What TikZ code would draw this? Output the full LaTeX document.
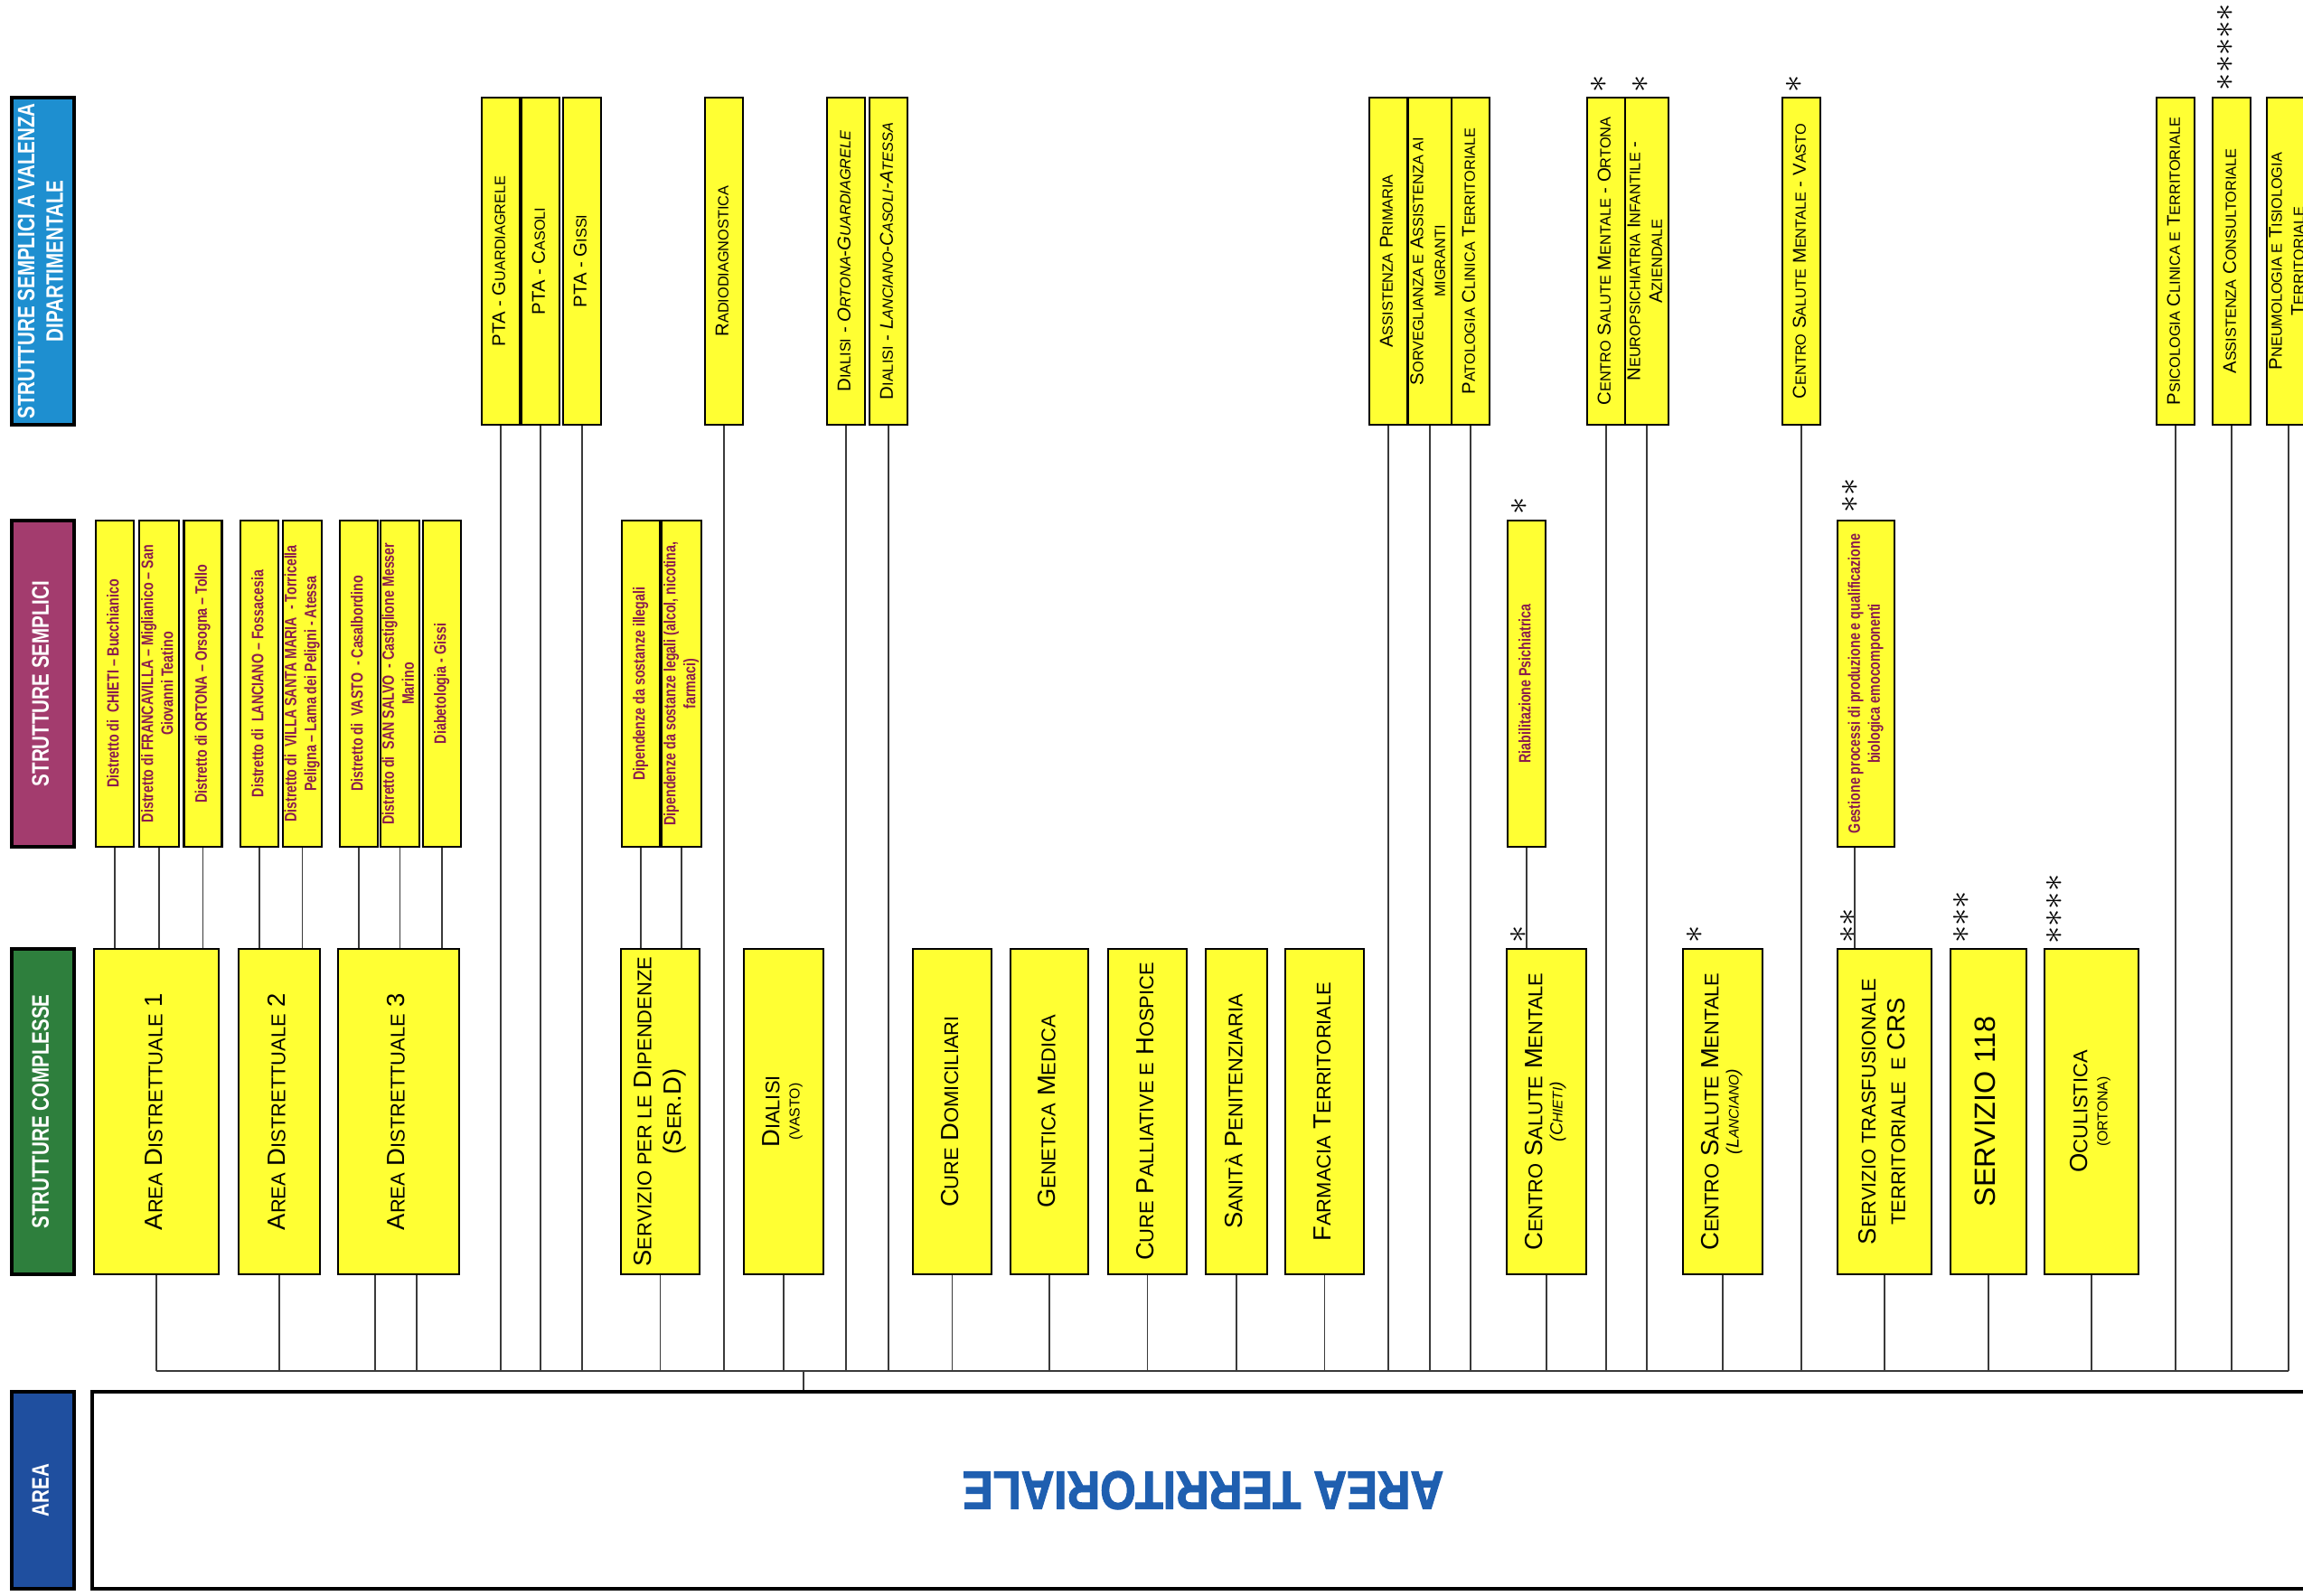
\documentclass[tikz,border=0pt]{standalone}
\usepackage{fontspec}
\usepackage{graphicx}
\setmainfont{Liberation Sans}
\newfontfamily\narrowsf[FakeStretch=0.78]{Liberation Sans}
\newfontfamily\widesf[FakeStretch=0.85,FakeBold=2]{Liberation Sans}
\usetikzlibrary{positioning}

\definecolor{boxyellow}{HTML}{FFFF33}
\definecolor{textmag}{HTML}{8A1C4E}
\definecolor{hblue}{HTML}{1E8FD0}
\definecolor{hmag}{HTML}{A33C6E}
\definecolor{hgreen}{HTML}{2E7F3D}
\definecolor{hnavy}{HTML}{1F4F9F}
\definecolor{areablue}{HTML}{1F5FB0}
\definecolor{linkgray}{HTML}{3A3A3A}

\makeatletter
\newcommand\sk[1]{{\@tempdima=\f@size pt\relax\@tempdima=0.8\@tempdima
  \edef\sk@size{\strip@pt\@tempdima}\fontsize{\sk@size}{\f@baselineskip}\selectfont #1}}
\makeatother
\newcommand\vtext[1]{\rotatebox{90}{\begin{tabular}{@{}c@{}}#1\end{tabular}}}

\begin{document}
\begin{tikzpicture}[
    box/.style={draw=black, line width=0.6pt, fill=boxyellow, inner sep=0pt, minimum width=0.42cm},
    lvlone/.style={box, minimum height=3.62cm, font=\fontsize{5.8}{6.9}\selectfont},
    lvltwo/.style={box, minimum height=3.61cm, text=textmag, font=\narrowsf\bfseries\fontsize{5.2}{6.2}\selectfont},
    lvlthree/.style={box, minimum height=3.60cm, font=\fontsize{7.8}{9.3}\selectfont},
    header/.style={draw=black, line width=1pt, minimum width=0.69cm, inner sep=0pt, text=white, font=\narrowsf\bfseries\fontsize{7.5}{9}\selectfont},
    link/.style={draw=linkgray, line width=0.5pt},
    stars/.style={inner sep=0pt, rotate=90, font=\fontsize{11}{11}\selectfont}
]
    \useasboundingbox (0,0) rectangle (25.48,-17.66);

    % Column headers
    \node[header, fill=hblue, minimum height=3.62cm] (hsvd) at (0.475,-2.89) {\vtext{STRUTTURE SEMPLICI A VALENZA\\DIPARTIMENTALE}};
    \node[header, fill=hmag, minimum height=3.61cm] (hss) at (0.475,-7.565) {\vtext{STRUTTURE SEMPLICI}};
    \node[header, fill=hgreen, minimum height=3.60cm] (hsc) at (0.475,-12.30) {\vtext{STRUTTURE COMPLESSE}};
    \node[header, fill=hnavy, minimum height=2.18cm] (harea) at (0.475,-16.49) {\vtext{AREA}};

    % Strutture semplici a valenza dipartimentale
    \node[lvlone] (ptag) at (5.54,-2.89) {\vtext{PTA - G\sk{UARDIAGRELE}}};
    \node[lvlone] (ptac) at (5.98,-2.89) {\vtext{PTA - C\sk{ASOLI}}};
    \node[lvlone] (ptagi) at (6.44,-2.89) {\vtext{PTA - G\sk{ISSI}}};
    \node[lvlone] (radio) at (8.01,-2.89) {\vtext{R\sk{ADIODIAGNOSTICA}}};
    \node[lvlone] (dialo) at (9.36,-2.89) {\vtext{D\sk{IALISI} - \textit{O\sk{RTONA}-G\sk{UARDIAGRELE}}}};
    \node[lvlone] (diall) at (9.83,-2.89) {\vtext{D\sk{IALISI} - \textit{L\sk{ANCIANO}-C\sk{ASOLI}-A\sk{TESSA}}}};
    \node[lvlone] (assprim) at (15.36,-2.89) {\vtext{A\sk{SSISTENZA} P\sk{RIMARIA}}};
    \node[lvlone] (sorv) at (15.82,-2.89) {\vtext{S\sk{ORVEGLIANZA E} A\sk{SSISTENZA AI}\\\sk{MIGRANTI}}};
    \node[lvlone] (patol) at (16.27,-2.89) {\vtext{P\sk{ATOLOGIA} C\sk{LINICA} T\sk{ERRITORIALE}}};
    \node[lvlone] (csmort) at (17.77,-2.89) {\vtext{C\sk{ENTRO} S\sk{ALUTE} M\sk{ENTALE} - O\sk{RTONA}}};
    \node[lvlone] (neuro) at (18.22,-2.89) {\vtext{N\sk{EUROPSICHIATRIA} I\sk{NFANTILE} -\\A\sk{ZIENDALE}}};
    \node[lvlone] (csmvas) at (19.93,-2.89) {\vtext{C\sk{ENTRO} S\sk{ALUTE} M\sk{ENTALE} - V\sk{ASTO}}};
    \node[lvlone] (psico) at (24.07,-2.89) {\vtext{P\sk{SICOLOGIA} C\sk{LINICA E} T\sk{ERRITORIALE}}};
    \node[lvlone] (consul) at (24.69,-2.89) {\vtext{A\sk{SSISTENZA} C\sk{ONSULTORIALE}}};
    \node[lvlone] (pneumo) at (25.32,-2.89) {\vtext{P\sk{NEUMOLOGIA E} T\sk{ISIOLOGIA}\\T\sk{ERRITORIALE}}};

    % Strutture semplici
    \node[lvltwo] (dchi) at (1.27,-7.565) {\vtext{Distretto di\ \ CHIETI – Bucchianico}};
    \node[lvltwo] (dfra) at (1.76,-7.565) {\vtext{Distretto di FRANCAVILLA – Miglianico – San\\Giovanni Teatino}};
    \node[lvltwo] (dort) at (2.245,-7.565) {\vtext{Distretto di ORTONA – Orsogna – Tollo}};
    \node[lvltwo] (dlan) at (2.87,-7.565) {\vtext{Distretto di\ \ LANCIANO – Fossacesia}};
    \node[lvltwo] (dvil) at (3.345,-7.565) {\vtext{Distretto di\ \ VILLA SANTA MARIA\ \ - Torricella\\Peligna – Lama dei Peligni - Atessa}};
    \node[lvltwo] (dvas) at (3.97,-7.565) {\vtext{Distretto di\ \ VASTO\ \ - Casalbordino}};
    \node[lvltwo] (dsan) at (4.425,-7.565) {\vtext{Distretto di\ \ SAN SALVO\ \ - Castiglione Messer\\Marino}};
    \node[lvltwo] (ddia) at (4.89,-7.565) {\vtext{Diabetologia - Gissi}};
    \node[lvltwo] (dipill) at (7.09,-7.565) {\vtext{Dipendenze da sostanze illegali}};
    \node[lvltwo] (dipleg) at (7.54,-7.565) {\vtext{Dipendenze da sostanze legali (alcol, nicotina,\\farmaci)}};
    \node[lvltwo] (riab) at (16.89,-7.565) {\vtext{Riabilitazione Psichiatrica}};
    \node[lvltwo, minimum width=0.63cm] (gest) at (20.645,-7.565) {\vtext{Gestione processi di produzione e qualificazione\\biologica emocomponenti}};

    % Strutture complesse
    \node[lvlthree, minimum width=1.38cm] (ad1) at (1.73,-12.30) {\vtext{A\sk{REA} D\sk{ISTRETTUALE} 1}};
    \node[lvlthree, minimum width=0.90cm] (ad2) at (3.09,-12.30) {\vtext{A\sk{REA} D\sk{ISTRETTUALE} 2}};
    \node[lvlthree, minimum width=1.34cm] (ad3) at (4.41,-12.30) {\vtext{A\sk{REA} D\sk{ISTRETTUALE} 3}};
    \node[lvlthree, minimum width=0.87cm] (serd) at (7.305,-12.30) {\vtext{S\sk{ERVIZIO PER LE} D\sk{IPENDENZE}\\(S\sk{ER}.D)}};
    \node[lvlthree, minimum width=0.88cm] (dialv) at (8.67,-12.30) {\vtext{D\sk{IALISI}\\[-3pt]{\fontsize{4.5}{5}\selectfont(VASTO)}}};
    \node[lvlthree, minimum width=0.87cm] (curedom) at (10.535,-12.30) {\vtext{C\sk{URE} D\sk{OMICILIARI}}};
    \node[lvlthree, minimum width=0.86cm] (genet) at (11.61,-12.30) {\vtext{G\sk{ENETICA} M\sk{EDICA}}};
    \node[lvlthree, minimum width=0.87cm] (curepal) at (12.695,-12.30) {\vtext{C\sk{URE} P\sk{ALLIATIVE E} H\sk{OSPICE}}};
    \node[lvlthree, minimum width=0.68cm] (sanita) at (13.68,-12.30) {\vtext{S\sk{ANITÀ} P\sk{ENITENZIARIA}}};
    \node[lvlthree, minimum width=0.87cm] (farma) at (14.655,-12.30) {\vtext{F\sk{ARMACIA} T\sk{ERRITORIALE}}};
    \node[lvlthree, minimum width=0.88cm] (csmchi) at (17.11,-12.30) {\vtext{C\sk{ENTRO} S\sk{ALUTE} M\sk{ENTALE}\\[-3pt]{\itshape\fontsize{5.5}{6}\selectfont(C\sk{HIETI})}}};
    \node[lvlthree, minimum width=0.88cm] (csmlan) at (19.06,-12.30) {\vtext{C\sk{ENTRO} S\sk{ALUTE} M\sk{ENTALE}\\[-3pt]{\itshape\fontsize{5.5}{6}\selectfont(L\sk{ANCIANO})}}};
    \node[lvlthree, minimum width=1.04cm] (trasf) at (20.85,-12.30) {\vtext{S\sk{ERVIZIO TRASFUSIONALE}\\\sk{TERRITORIALE\ \ E} CRS}};
    \node[lvlthree, minimum width=0.84cm, font=\fontsize{9.2}{11}\selectfont] (serv118) at (22.00,-12.30) {\vtext{SERVIZIO 118}};
    \node[lvlthree, minimum width=1.04cm] (oculi) at (23.14,-12.30) {\vtext{O\sk{CULISTICA}\\[-3pt]{\fontsize{4.5}{5}\selectfont(ORTONA)}}};

    % Area
    \node[draw=black, line width=1pt, minimum width=24.58cm, minimum height=2.18cm, inner sep=0pt,
          text=areablue, font=\widesf\bfseries\fontsize{17}{19}\selectfont] (area) at (13.31,-16.49) {\rotatebox{180}{AREA TERRITORIALE}};

    % Asterisks
    \node[stars] (a1) at (17.69,-0.93) {${\ast}$};
    \node[stars] (a2) at (18.15,-0.93) {${\ast}$};
    \node[stars] (a3) at (19.85,-0.93) {${\ast}$};
    \node[stars] (a4) at (24.62,-0.52) {${\ast}{\ast}{\ast}{\ast}{\ast}$};
    \node[stars] (a5) at (16.81,-5.60) {${\ast}$};
    \node[stars] (a6) at (20.47,-5.48) {${\ast}{\ast}$};
    \node[stars] (a7) at (16.80,-10.34) {${\ast}$};
    \node[stars] (a8) at (18.75,-10.34) {${\ast}$};
    \node[stars] (a9) at (20.45,-10.24) {${\ast}{\ast}$};
    \node[stars] (a10) at (21.70,-10.15) {${\ast}{\ast}{\ast}$};
    \node[stars] (a11) at (22.73,-10.06) {${\ast}{\ast}{\ast}{\ast}$};

    % Connect
    \coordinate (bus) at (0,-15.17);
    \coordinate (join) at (8.89,-15.17);
    \draw[link] (dchi.south) -- (dchi.south |- ad1.north);
    \draw[link] (dfra.south) -- (dfra.south |- ad1.north);
    \draw[link] (dort.south) -- (dort.south |- ad1.north);
    \draw[link] (dlan.south) -- (dlan.south |- ad2.north);
    \draw[link] (dvil.south) -- (dvil.south |- ad2.north);
    \draw[link] (dvas.south) -- (dvas.south |- ad3.north);
    \draw[link] (dsan.south) -- (dsan.south |- ad3.north);
    \draw[link] (ddia.south) -- (ddia.south |- ad3.north);
    \draw[link] (dipill.south) -- (dipill.south |- serd.north);
    \draw[link] (dipleg.south) -- (dipleg.south |- serd.north);
    \draw[link] (riab.south) -- (riab.south |- csmchi.north);
    \draw[link] ([xshift=0.2cm]gest.south west) -- ([xshift=0.2cm]gest.south west |- trasf.north);

    \draw[link] (ptag.south) -- (ptag.south |- bus);
    \draw[link] (ptac.south) -- (ptac.south |- bus);
    \draw[link] (ptagi.south) -- (ptagi.south |- bus);
    \draw[link] (radio.south) -- (radio.south |- bus);
    \draw[link] (dialo.south) -- (dialo.south |- bus);
    \draw[link] (diall.south) -- (diall.south |- bus);
    \draw[link] (assprim.south) -- (assprim.south |- bus);
    \draw[link] (sorv.south) -- (sorv.south |- bus);
    \draw[link] (patol.south) -- (patol.south |- bus);
    \draw[link] (csmort.south) -- (csmort.south |- bus);
    \draw[link] (neuro.south) -- (neuro.south |- bus);
    \draw[link] (csmvas.south) -- (csmvas.south |- bus);
    \draw[link] (psico.south) -- (psico.south |- bus);
    \draw[link] (consul.south) -- (consul.south |- bus);
    \draw[link] (pneumo.south) -- (pneumo.south |- bus);

    \draw[link] (ad1.south) -- (ad1.south |- bus);
    \draw[link] (ad2.south) -- (ad2.south |- bus);
    \draw[link] ([xshift=-0.26cm]ad3.south) -- ([xshift=-0.26cm]ad3.south |- bus);
    \draw[link] ([xshift=0.2cm]ad3.south) -- ([xshift=0.2cm]ad3.south |- bus);
    \draw[link] (serd.south) -- (serd.south |- bus);
    \draw[link] (dialv.south) -- (dialv.south |- bus);
    \draw[link] (curedom.south) -- (curedom.south |- bus);
    \draw[link] (genet.south) -- (genet.south |- bus);
    \draw[link] (curepal.south) -- (curepal.south |- bus);
    \draw[link] (sanita.south) -- (sanita.south |- bus);
    \draw[link] (farma.south) -- (farma.south |- bus);
    \draw[link] (csmchi.south) -- (csmchi.south |- bus);
    \draw[link] (csmlan.south) -- (csmlan.south |- bus);
    \draw[link] (trasf.south) -- (trasf.south |- bus);
    \draw[link] (serv118.south) -- (serv118.south |- bus);
    \draw[link] (oculi.south) -- (oculi.south |- bus);

    \draw[link, line width=0.7pt] (ad1.south |- bus) -- (pneumo.south |- bus);
    \draw[link] (join) -- (join |- area.north);
\end{tikzpicture}
\end{document}
